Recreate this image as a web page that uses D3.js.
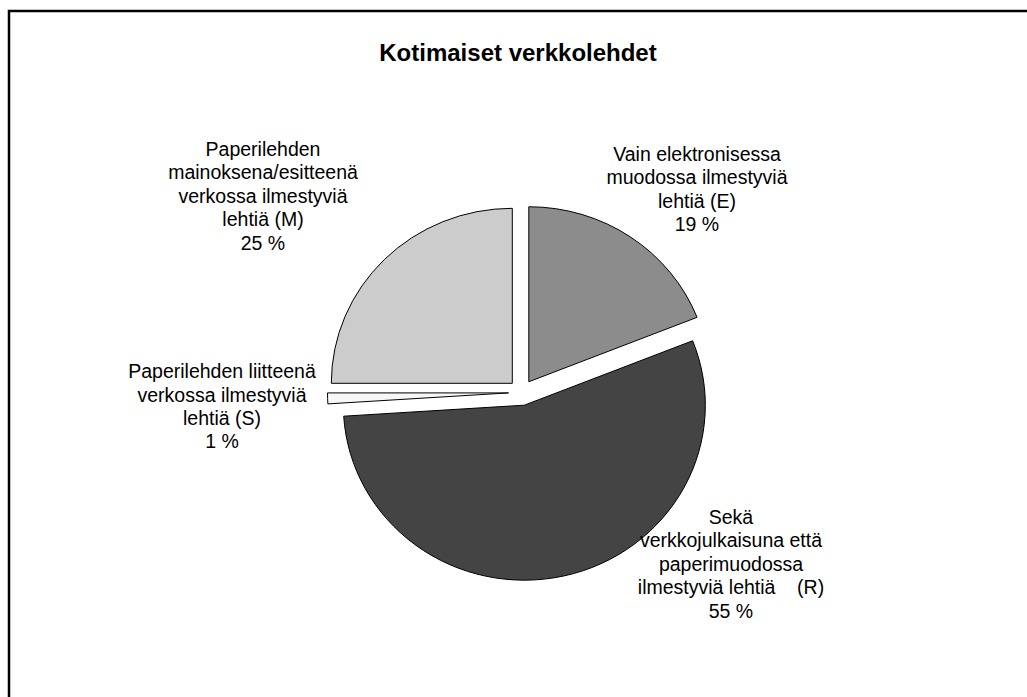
<!DOCTYPE html>
<html>
<head>
<meta charset="utf-8">
<script src="https://cdn.jsdelivr.net/npm/d3@7"></script>
<style>
  body { margin: 0; background: #fff; }
  text { font-family: "Liberation Sans", Arial, sans-serif; fill: #000; }
</style>
</head>
<body>
<svg id="chart" width="1027" height="697"></svg>
<script>
// Data
var title = "Kotimaiset verkkolehdet";
var codes = ["E", "R", "S", "M"];
var values = [19, 55, 1, 25];
var labelLines = [
  ["Vain elektronisessa", "muodossa ilmestyviä", "lehtiä (E)"],
  ["Sekä", "verkkojulkaisuna että", "paperimuodossa", "ilmestyviä lehtiä    (R)"],
  ["Paperilehden liitteenä", "verkossa ilmestyviä", "lehtiä (S)"],
  ["Paperilehden", "mainoksena/esitteenä", "verkossa ilmestyviä", "lehtiä (M)"]
];
var fills = ["#8c8c8c", "#444444", "#f7f7f7", "#cccccc"];

// Layout
var cx = 521.5, cy = 392.5;
var rx = 181, ry = 175;      // pie is slightly stretched sideways
var explode = 13;
var lineH = 23.4;
// label block centres, relative to pie centre
var labelOffset = [[175.5, -203.5], [209.5, 171.5], [-299.5, 14], [-258.5, -196.5]];

var svg = d3.select("#chart");

// Frame
svg.append("rect")
  .attr("x", 9).attr("y", 11)
  .attr("width", 1040).attr("height", 720)
  .attr("fill", "none")
  .attr("stroke", "#000")
  .attr("stroke-width", 2.5);

// Title
svg.append("text")
  .attr("x", 518).attr("y", 61)
  .attr("text-anchor", "middle")
  .style("font-size", "24px")
  .style("font-weight", "bold")
  .text(title);

// Pie
var pie = d3.pie().sort(null).value(function (d) { return d; });
var arcs = pie(values);
var arc = d3.arc().innerRadius(0).outerRadius(rx);

var g = svg.append("g")
  .attr("transform", "translate(" + cx + "," + cy + ") scale(1," + (ry / rx) + ")");

g.selectAll("path")
  .data(arcs)
  .enter().append("path")
  .attr("d", arc)
  .attr("transform", function (d) {
    var a = (d.startAngle + d.endAngle) / 2;
    return "translate(" + (explode * Math.sin(a)) + "," + (-explode * Math.cos(a) * rx / ry) + ")";
  })
  .attr("fill", function (d, i) { return fills[i]; })
  .attr("stroke", "#000")
  .attr("stroke-width", 1)
  .attr("vector-effect", "non-scaling-stroke")
  .attr("stroke-linejoin", "miter");

// Labels
arcs.forEach(function (d, i) {
  var lines = labelLines[i].concat([values[i] + " %"]);
  var x = cx + labelOffset[i][0];
  var y0 = cy + labelOffset[i][1] - (lines.length - 1) * lineH / 2;
  var t = svg.append("text")
    .attr("text-anchor", "middle")
    .attr("xml:space", "preserve")
    .style("font-size", "19.5px")
    .style("white-space", "pre");
  lines.forEach(function (s, j) {
    t.append("tspan")
      .attr("x", x)
      .attr("y", y0 + j * lineH)
      .attr("dy", "0.35em")
      .text(s);
  });
});
</script>
</body>
</html>
